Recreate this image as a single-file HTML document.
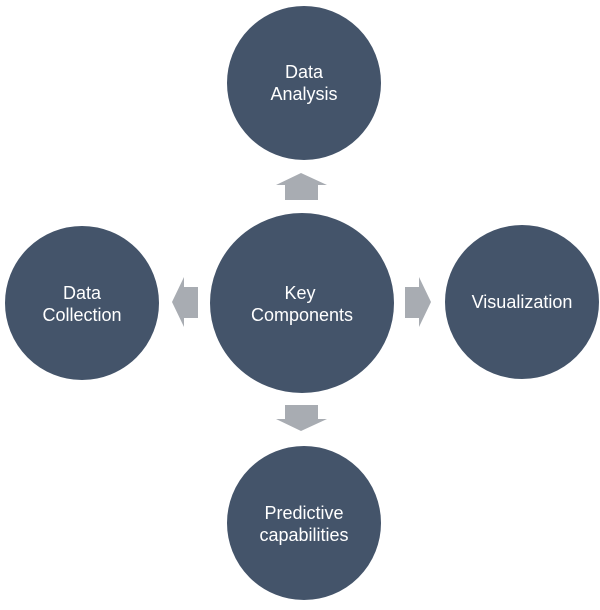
<!DOCTYPE html>
<html><head><style>body{margin:0;background:#fff}</style></head><body>
<svg width="600" height="605" xmlns="http://www.w3.org/2000/svg" font-family="Liberation Sans, sans-serif" font-size="18" fill="#fff" text-anchor="middle">
<g fill="#44546a" stroke="#fff" stroke-width="2">
<circle cx="304" cy="83" r="78"/>
<circle cx="82" cy="303" r="78"/>
<ellipse cx="302" cy="303" rx="93" ry="91"/>
<circle cx="522" cy="302" r="78"/>
<circle cx="304" cy="523" r="78"/>
</g>
<g fill="#a8acb2">
<polygon points="301,173 327,185 318,185 318,200 285,200 285,185 276,185"/>
<polygon points="301,431 327,419 318,419 318,405 285,405 285,419 276,419"/>
<polygon points="172,302 184,277 184,287 198,287 198,318 184,318 184,327"/>
<polygon points="431,302 419,277 419,287 405,287 405,318 419,318 419,327"/>
</g>
<g fill="#fff">
<text x="304" y="78">Data</text><text x="304" y="100">Analysis</text>
<text x="300" y="299">Key</text><text x="302" y="321">Components</text>
<text x="82" y="299">Data</text><text x="82" y="321">Collection</text>
<text x="522" y="308">Visualization</text>
<text x="304" y="519">Predictive</text><text x="304" y="541">capabilities</text>
</g>
</svg>
</body></html>
